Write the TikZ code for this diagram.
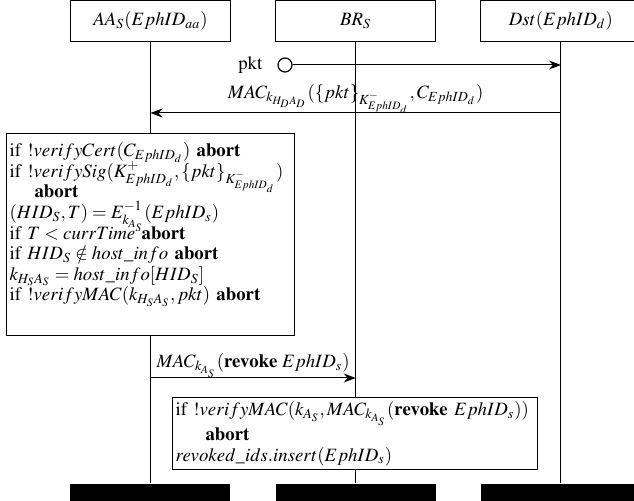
\documentclass[tikz,border=0pt]{standalone}
\usepackage[T1]{fontenc}
\usepackage{mathptmx}
\usepackage{tikz}
\usetikzlibrary{positioning}
\usetikzlibrary{arrows.meta}

\begin{document}
\begin{tikzpicture}[x=0.5pt, y=-0.5pt, font=\fontsize{9.4}{10.3}\selectfont,
	actor/.style={draw, line width=0.6pt, minimum width=80pt, minimum height=20.75pt, inner sep=0pt},
	endbar/.style={fill=black, minimum width=80pt, minimum height=9.5pt, inner sep=0pt},
	action/.style={draw, line width=0.6pt, fill=white, align=left, anchor=north west, inner ysep=2pt, inner xsep=1.5pt},
	tight/.style={execute at begin node={\lineskiplimit=-10pt\relax}, inner ysep=4.5pt},
	msg/.style={line width=0.5pt, -{Stealth[length=6pt, width=4.5pt, inset=2pt]}}]
	\useasboundingbox (0,0) rectangle (634,501);

	% Heads
	\node [actor] at (150.5,21) (aa) {$AA_S(EphID_{aa})$};
	\node [actor, right=22pt of aa] (br) {$BR_S$};
	\node [actor, right=22pt of br] (dst) {$Dst(EphID_d)$};

	% Ends
	\node [endbar, below=220.5pt of aa] (aaend) {};
	\node [endbar, below=220.5pt of br] (brend) {};
	\node [endbar, below=220.5pt of dst] (dstend) {};

	% Lifelines
	\draw [line width=0.5pt] (node cs:name=aa, anchor=south) -- (node cs:name=aaend, anchor=north);
	\draw [line width=0.5pt] (node cs:name=br, anchor=south) -- (node cs:name=brend, anchor=north);
	\draw [line width=0.5pt] (node cs:name=dst, anchor=south) -- (node cs:name=dstend, anchor=north);

	% Messages
	\node [circle, draw, line width=0.6pt, minimum size=7pt, inner sep=0pt, label={[label distance=4pt]left:pkt}] at (285,65) (pktsrc) {};
	\coordinate (pktdst) at (dst |- pktsrc);
	\draw [msg] (pktsrc) -- (pktdst);

	\coordinate (retdst) at (dst |- 0,113);
	\coordinate (retaa) at (aa |- 0,113);
	\draw [msg] (retdst) -- node [above=-2pt, inner sep=1.5pt] (retlabel) {$MAC_{k_{H_DA_D}}(\{pkt\}_{K^-_{EphID_d}}, C_{EphID_d})$} (retaa);

	\coordinate (revaa) at (aa |- 0,378);
	\coordinate (revbr) at (br |- 0,378);
	\draw [msg] (revaa) -- node [above=-1.5pt, inner sep=1.5pt] (revlabel) {$MAC_{k_{A_S}}(\textbf{revoke}\ EphID_s)$} (revbr);

	% Checks
	\node [action, tight, text width=141pt] at (6,133) (aacheck) {%
		if~$!verifyCert(C_{EphID_d})$ \textbf{abort}\\
		if~$!verifySig(K^+_{EphID_d}, \{pkt\}_{K^-_{EphID_d}})$\\
		\hspace*{12.5pt}\textbf{abort}\\
		$(HID_S, T) = E^{-1}_{k_{A_S}}(EphID_s)$\\
		if~$T < currTime$ \textbf{abort}\\
		if~$HID_S \notin host\_info$ \textbf{abort}\\
		$k_{H_SA_S} = host\_info[HID_S]$\\
		if~$!verifyMAC(k_{H_SA_S}, pkt)$ \textbf{abort}\\[2.5pt]
		\mbox{}};
	\node [action, text width=179.5pt] at (172,397) (brcheck) {%
		if~$!verifyMAC(k_{A_S}, MAC_{k_{A_S}}(\textbf{revoke}\ EphID_s))$\\
		\hspace*{15pt}\textbf{abort}\\
		$revoked\_ids.insert(EphID_s)$};

\end{tikzpicture}
\end{document}
